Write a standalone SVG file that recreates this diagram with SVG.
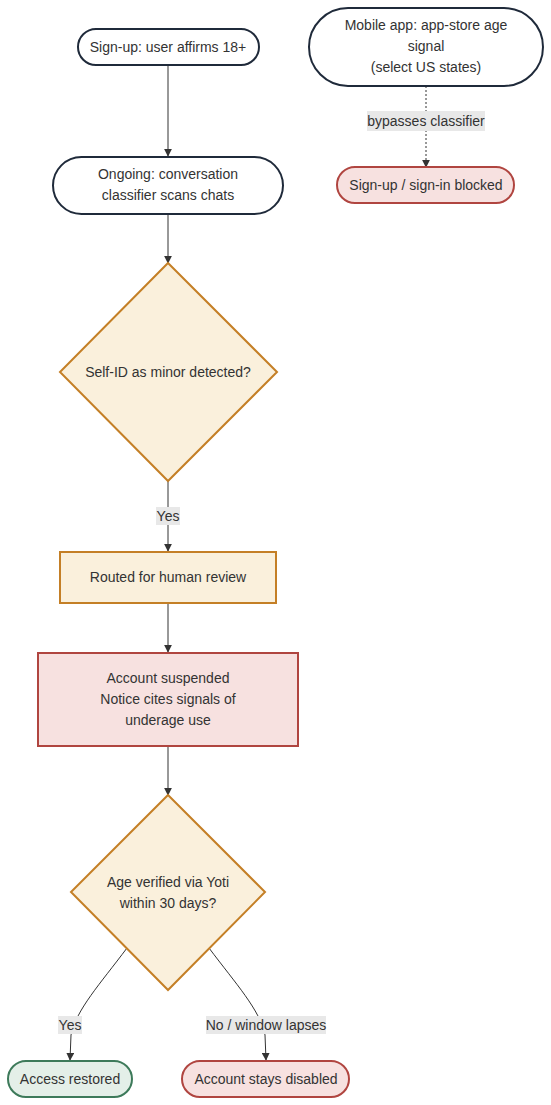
<svg xmlns="http://www.w3.org/2000/svg" width="551" height="1105" viewBox="0 0 551 1105">
<style>
text{font-family:"Liberation Sans",Arial,sans-serif;font-size:14px;fill:#333333;text-anchor:middle;dominant-baseline:central}
.term{fill:#ffffff;stroke:#1f2a3a;stroke-width:2}
.dec{fill:#faf0dc;stroke:#c47f26;stroke-width:2}
.bad{fill:#f7e1e0;stroke:#b04540;stroke-width:2}
.good{fill:#e4efe8;stroke:#3d7a5a;stroke-width:2}
.edge{fill:none;stroke:#333333;stroke-width:1}
.lbl{fill:#e8e8e8}
</style>
<defs>
<marker id="arr" viewBox="0 0 10 10" refX="9" refY="5" markerWidth="8" markerHeight="8" orient="auto-start-reverse" markerUnits="userSpaceOnUse">
<path d="M0,0 L10,5 L0,10 z" fill="#333333"/>
</marker>
</defs>
<g id="edges">
<path class="edge" d="M168,65 L168,156" marker-end="url(#arr)"/>
<path class="edge" d="M168,214 L168,263" marker-end="url(#arr)"/>
<path class="edge" d="M168,481 L168,551" marker-end="url(#arr)"/>
<rect class="lbl" x="156" y="507" width="24" height="18"/>
<text x="168" y="516">Yes</text>
<path class="edge" d="M168,603 L168,652" marker-end="url(#arr)"/>
<path class="edge" d="M168,746 L168,795" marker-end="url(#arr)"/>
<path class="edge" d="M127,948 C100,984 76,1010 71,1035 L70,1060" marker-end="url(#arr)"/>
<rect class="lbl" x="58" y="1016" width="24" height="18"/>
<text x="70" y="1025">Yes</text>
<path class="edge" d="M209,948 C236,984 260,1010 265,1035 L266,1060" marker-end="url(#arr)"/>
<rect class="lbl" x="206" y="1016" width="120" height="18"/>
<text x="266" y="1025">No / window lapses</text>
<path class="edge" d="M426,86 L426,167" stroke-dasharray="2,2" marker-end="url(#arr)"/>
<rect class="lbl" x="367" y="111" width="118" height="20"/>
<text x="426" y="121">bypasses classifier</text>
</g>
<g id="signup">
<rect class="term" x="78" y="29" width="181" height="36" rx="18"/>
<text x="168" y="47">Sign-up: user affirms 18+</text>
</g>
<g id="ongoing">
<rect class="term" x="53" y="157" width="230" height="57" rx="28.5"/>
<text x="168" y="174">Ongoing: conversation</text>
<text x="168" y="195">classifier scans chats</text>
</g>
<g id="selfid">
<polygon class="dec" points="168,263 277,372 168,481 60,372"/>
<text x="168" y="372">Self-ID as minor detected?</text>
</g>
<g id="review">
<rect class="dec" x="60" y="552" width="216" height="51"/>
<text x="168" y="577">Routed for human review</text>
</g>
<g id="suspended">
<rect class="bad" x="38" y="653" width="260" height="93"/>
<text x="168" y="678">Account suspended</text>
<text x="168" y="699">Notice cites signals of</text>
<text x="168" y="720">underage use</text>
</g>
<g id="verify">
<polygon class="dec" points="168,795 265,892 168,990 71,892"/>
<text x="168" y="882">Age verified via Yoti</text>
<text x="168" y="903">within 30 days?</text>
</g>
<g id="restored">
<rect class="good" x="8" y="1061" width="124" height="36" rx="18"/>
<text x="70" y="1079">Access restored</text>
</g>
<g id="disabled">
<rect class="bad" x="182" y="1061" width="167" height="36" rx="18"/>
<text x="266" y="1079">Account stays disabled</text>
</g>
<g id="mobile">
<rect class="term" x="309" y="8" width="234" height="78" rx="39"/>
<text x="426" y="25">Mobile app: app-store age</text>
<text x="426" y="46">signal</text>
<text x="426" y="67">(select US states)</text>
</g>
<g id="blocked">
<rect class="bad" x="337" y="167" width="177" height="36" rx="18"/>
<text x="426" y="185">Sign-up / sign-in blocked</text>
</g>
</svg>
